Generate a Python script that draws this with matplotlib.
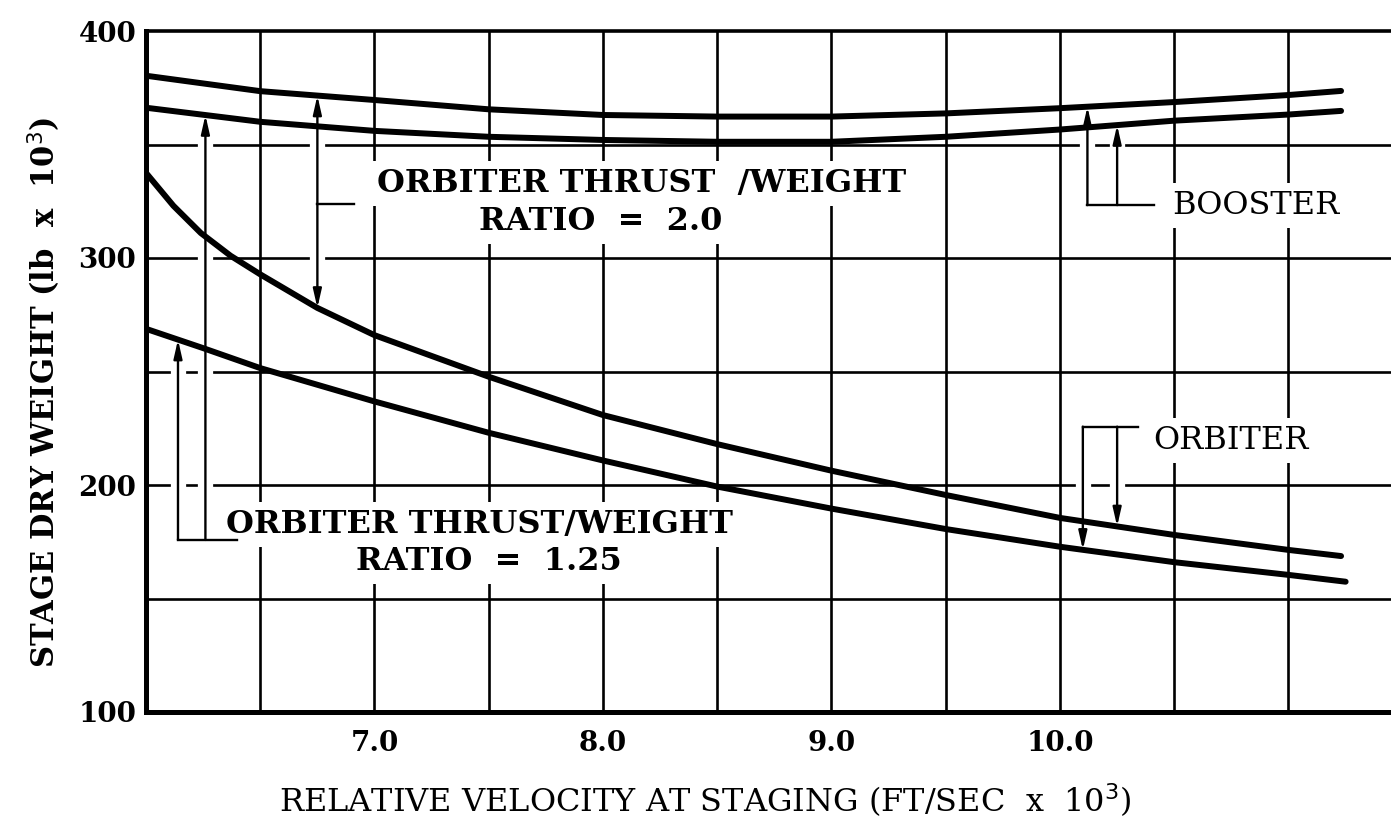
import numpy as np
import matplotlib
matplotlib.use("Agg")
import matplotlib.pyplot as plt

# ---- data ----
booster_tw20_x = [6.0, 6.5, 7.0, 7.5, 8.0, 8.5, 9.0, 9.5, 10.0, 10.5, 11.0, 11.23]
booster_tw20_y = [380.3, 373.5, 369.6, 365.5, 363.0, 362.3, 362.3, 363.7, 366.0, 368.7, 371.8, 373.6]

booster_tw125_x = [6.0, 6.5, 7.0, 7.5, 8.0, 8.5, 9.0, 9.5, 10.0, 10.5, 11.0, 11.23]
booster_tw125_y = [366.2, 360.0, 356.0, 353.4, 352.0, 351.2, 351.2, 353.4, 356.6, 360.5, 363.2, 364.8]

orbiter_tw20_x = [6.0, 6.12, 6.24, 6.37, 6.5, 6.75, 7.0, 7.5, 8.0, 8.5, 9.0, 9.5, 10.0, 10.5, 11.0, 11.23]
orbiter_tw20_y = [337.5, 323.0, 311.0, 301.0, 292.8, 278.0, 266.0, 247.7, 230.8, 218.0, 206.3, 195.6, 185.5, 178.0, 171.4, 168.7]

orbiter_tw125_x = [6.0, 6.25, 6.5, 7.0, 7.5, 8.0, 8.5, 9.0, 9.5, 10.0, 10.5, 11.0, 11.25]
orbiter_tw125_y = [268.8, 260.3, 251.5, 236.8, 223.0, 210.8, 199.3, 189.6, 180.6, 172.8, 166.0, 160.4, 157.4]

x_ticks = [7.0, 8.0, 9.0, 10.0]
x_ticklabels = ["7.0", "8.0", "9.0", "10.0"]
y_ticks = [100, 200, 300, 400]
y_ticklabels = ["100", "200", "300", "400"]

SERIF = "DejaVu Serif"

fig = plt.figure(figsize=(13.91, 8.31), dpi=100)
ax = fig.add_axes([146 / 1391, 1 - 712 / 831, 1 - 146 / 1391, (712 - 31) / 831])
ax.set_xlim(6.0, 6.0 + (1391 - 146) / 228.5)
ax.set_ylim(100, 400)

# grid
for gx in np.arange(6.5, 11.01, 0.5):
    ax.axvline(gx, color="black", lw=1.9, zorder=1)
for gy in np.arange(150, 351, 50):
    ax.axhline(gy, color="black", lw=1.9, zorder=1)

ax.spines["right"].set_visible(False)
ax.spines["left"].set_linewidth(3.6)
ax.spines["bottom"].set_linewidth(3.6)
ax.spines["top"].set_linewidth(2.6)

ax.set_xticks(x_ticks)
ax.set_xticklabels(x_ticklabels, fontfamily=SERIF, fontweight="bold", fontsize=20)
ax.set_yticks(y_ticks)
ax.set_yticklabels(y_ticklabels, fontfamily=SERIF, fontweight="bold", fontsize=20)
ax.tick_params(axis="both", length=0)
ax.tick_params(axis="x", pad=13)
ax.tick_params(axis="y", pad=7)

# curves
kw = dict(color="black", lw=4.3, solid_capstyle="round", solid_joinstyle="round", zorder=5)
ax.plot(booster_tw20_x, booster_tw20_y, **kw)
ax.plot(booster_tw125_x, booster_tw125_y, **kw)
ax.plot(orbiter_tw20_x, orbiter_tw20_y, **kw)
ax.plot(orbiter_tw125_x, orbiter_tw125_y, **kw)

def on(xs, ys, x):
    return float(np.interp(x, xs, ys))

lw_a = 1.7
arrow = dict(arrowstyle="-|>,head_length=1.1,head_width=0.25", color="black", lw=lw_a,
             shrinkA=0, shrinkB=0)

def arr(x, y0, y1):
    # white break in the grid where the leader crosses it
    ax.plot([x, x], [y0, y1], color="white", lw=11, solid_capstyle="butt", zorder=2)
    ax.annotate("", xy=(x, y1), xytext=(x, y0), arrowprops=arrow, zorder=6)

def seg(xs, ys):
    ax.plot(xs, ys, color="black", lw=lw_a, zorder=6)

# T/W = 2.0 bracket
bx = 6.75
ymid = 323.8
arr(bx, ymid, on(booster_tw20_x, booster_tw20_y, bx))
arr(bx, ymid, on(orbiter_tw20_x, orbiter_tw20_y, bx))
seg([bx, 6.91], [ymid, ymid])

# T/W = 1.25 bracket
ax1, ax2 = 6.14, 6.26
yb = 175.8
arr(ax1, yb, on(orbiter_tw125_x, orbiter_tw125_y, ax1))
arr(ax2, yb, on(booster_tw125_x, booster_tw125_y, ax2))
seg([ax1, 6.40], [yb, yb])

# BOOSTER bracket
b1, b2 = 10.12, 10.25
yb2 = 323.3
arr(b1, yb2, on(booster_tw20_x, booster_tw20_y, b1))
arr(b2, yb2, on(booster_tw125_x, booster_tw125_y, b2))
seg([b1, 10.41], [yb2, yb2])

# ORBITER bracket
o1, o2 = 10.10, 10.25
yo = 225.7
arr(o1, yo, on(orbiter_tw125_x, orbiter_tw125_y, o1))
arr(o2, yo, on(orbiter_tw20_x, orbiter_tw20_y, o2))
seg([o1, 10.34], [yo, yo])

box = dict(facecolor="white", edgecolor="none", pad=5)
tb = dict(fontfamily=SERIF, fontweight="bold", fontsize=23, zorder=3, va="center")
ax.text(8.17, 333, "ORBITER THRUST  /WEIGHT", ha="center", bbox=box, **tb)
ax.text(7.99, 316, "RATIO  =  2.0", ha="center", bbox=box, **tb)
ax.text(7.46, 182.4, "ORBITER THRUST/WEIGHT", ha="center", bbox=box, **tb)
ax.text(7.50, 166.5, "RATIO  =  1.25", ha="center", bbox=box, **tb)

tn = dict(fontfamily=SERIF, fontsize=23, zorder=3, va="center")
ax.text(10.49, 323.3, "BOOSTER", ha="left", bbox=box, **tn)
ax.text(10.41, 219.8, "ORBITER", ha="left", bbox=box, **tn)

fig.text(705 / 1391, 1 - 800 / 831, r"RELATIVE VELOCITY AT STAGING (FT/SEC  x  10$^{3}$)",
         ha="center", va="center", fontfamily=SERIF, fontsize=23)
fig.text(44 / 1391, 1 - 392 / 831, r"STAGE DRY WEIGHT (lb  x  10$^{3}$)",
         ha="center", va="center", rotation=90, fontfamily=SERIF, fontweight="bold", fontsize=22)

fig.savefig("out.png", dpi=100, facecolor="white")
